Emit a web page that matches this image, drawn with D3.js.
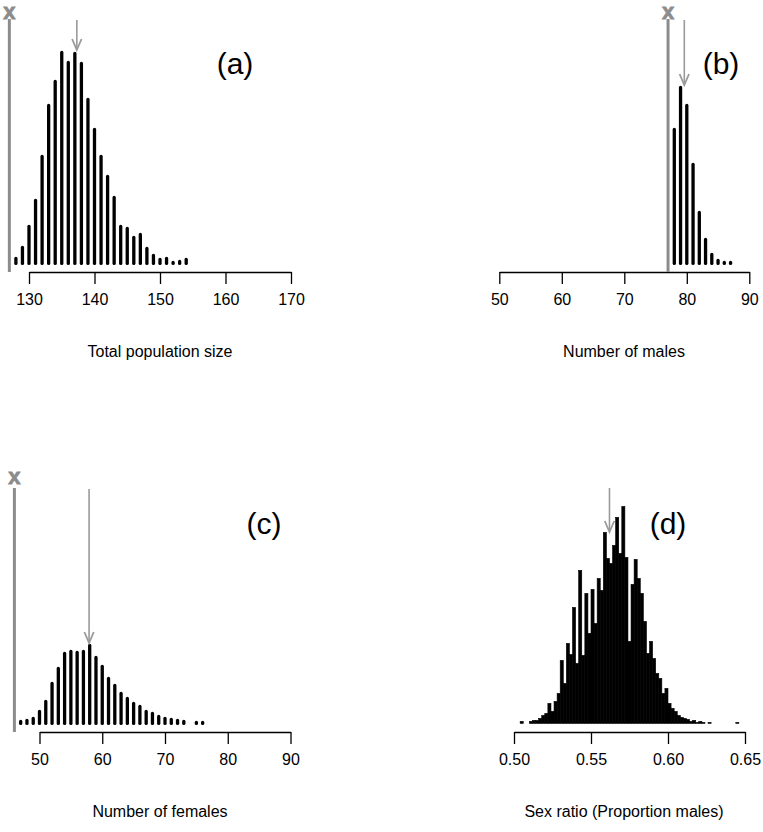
<!DOCTYPE html>
<html><head><meta charset="utf-8">
<script src="https://cdn.jsdelivr.net/npm/d3@7"></script>
<style>
body{margin:0;background:#fff;}
svg{display:block;font-family:"Liberation Sans",Arial,Helvetica,sans-serif;}
</style></head>
<body>
<svg id="chart" width="763" height="832"></svg>
<script>
// ---------- DATA ----------
// (a) total population size
const popValues = [128,129,130,131,132,133,134,135,136,137,138,139,140,141,142,143,144,145,146,147,148,149,150,151,152,153,154];
const popCounts = [5,16,37,63,107,158,182,211,201,210,200,164,134,107,87,66,37,35,26,29,15,8,4,5,1,2,4];
const popTicks = [130,140,150,160,170];
// (b) number of males
const maleValues = [78,79,80,81,82,83,84,85,86,87];
const maleCounts = [134,176,158,99,51,24,9,3,1,1];
const maleTicks = [50,60,70,80,90];
// (c) number of females
const femValues = [47,48,49,50,51,52,53,54,55,56,57,58,59,60,61,62,63,64,65,66,67,68,69,70,71,72,73,75,76];
const femCounts = [2,3,5,12,22,40,55,70,72,71,72,78,66,57,45,38,30,25,20,17,12,10,7,5,4,3,2,1,1];
const femTicks = [50,60,70,80,90];
// (d) sex ratio (proportion males), bin starts, width 0.002
const ratioBins = [0.504,0.506,0.508,0.510,0.512,0.514,0.516,0.518,0.520,0.522,0.524,0.526,0.528,0.530,0.532,0.534,0.536,0.538,0.540,0.542,0.544,0.546,0.548,0.550,0.552,0.554,0.556,0.558,0.560,0.562,0.564,0.566,0.568,0.570,0.572,0.574,0.576,0.578,0.580,0.582,0.584,0.586,0.588,0.590,0.592,0.594,0.596,0.598,0.600,0.602,0.604,0.606,0.608,0.610,0.612,0.614,0.616,0.618,0.620,0.622,0.624,0.626,0.628,0.630,0.632,0.634,0.636,0.638,0.640,0.642,0.644];
const ratioCounts = [2,0,0,2,3,3,5,8,10,20,12,22,30,63,40,80,69,116,60,153,68,130,90,134,100,145,133,191,165,160,178,206,170,217,166,82,139,164,145,130,102,70,82,65,50,45,30,35,20,15,12,8,6,5,4,2,3,1,2,1,0,1,0,0,0,0,0,0,0,0,1];
const ratioBinWidth = 0.002;
const ratioTicks = [0.50,0.55,0.60,0.65];
// observed values (grey line + "x") and means (arrows)
const observed = {a:127, b:77, c:46};
const means = {a:137.3, b:79.6, c:57.9, d:0.562};
const labels = {a:"(a)", b:"(b)", c:"(c)", d:"(d)"};
const titles = {a:"Total population size", b:"Number of males", c:"Number of females", d:"Sex ratio (Proportion males)"};

// ---------- LAYOUT ----------
const svg = d3.select("#chart");
const dyBottom = 460;
const grey = "#8c8c8c", arrowGrey = "#9a9a9a";

function makePanel(o){
  const g = svg.append("g").attr("transform", `translate(0,${o.dy})`);
  const x = d3.scaleLinear().domain([o.ticks[0], o.ticks[o.ticks.length-1]]).range(o.xr);
  const y = d3.scaleLinear().domain([0, 235]).range([263.4, 28.4]);
  const ax = g.append("g").attr("transform","translate(0,272)")
    .call(d3.axisBottom(x).tickValues(o.ticks).tickSizeInner(12).tickSizeOuter(0).tickPadding(10).tickFormat(o.fmt || d3.format("d")));
  ax.selectAll("path,line").attr("stroke","#000").attr("stroke-width",1.3);
  ax.selectAll("text").attr("font-size",16).attr("fill","#000").attr("font-family","Liberation Sans, Arial, sans-serif");
  g.append("text").attr("x", o.titleX).attr("y", 357).attr("text-anchor","middle")
    .attr("font-size",16).text(o.title);
  g.append("text").attr("x", o.labX).attr("y", 74).attr("text-anchor","middle")
    .attr("font-size",30).text(o.label);
  return {g,x,y};
}

function drawSpikes(p, vals, counts){
  p.g.append("g").selectAll("line").data(vals).join("line")
    .attr("x1", d=>p.x(d)).attr("x2", d=>p.x(d))
    .attr("y1", p.y(0)).attr("y2", (d,i)=>p.y(counts[i]))
    .attr("stroke","#000").attr("stroke-width",3.3).attr("stroke-linecap","round");
}
function drawObserved(p, v, topCount, markCount){
  p.g.append("line").attr("x1",p.x(v)).attr("x2",p.x(v))
    .attr("y1",272).attr("y2",p.y(topCount))
    .attr("stroke",grey).attr("stroke-width",3);
  p.g.append("text").attr("x",p.x(v)).attr("y",p.y(markCount)+5.5).attr("text-anchor","middle")
    .attr("font-size",22).attr("font-weight","bold").attr("fill",grey)
    .attr("stroke",grey).attr("stroke-width",0.8).text("x");
}
function drawArrow(p, v, fromCount, tipCount){
  const xx = p.x(v), y0 = p.y(fromCount), y1 = p.y(tipCount);
  p.g.append("line").attr("x1",xx).attr("x2",xx).attr("y1",y0).attr("y2",y1-1)
    .attr("stroke",arrowGrey).attr("stroke-width",1.6);
  p.g.append("path").attr("d",`M${xx-4.7},${y1-11}L${xx},${y1}L${xx+4.7},${y1-11}`)
    .attr("fill","none").attr("stroke",arrowGrey).attr("stroke-width",1.8);
}

// (a)
const pa = makePanel({dy:0, ticks:popTicks, xr:[29,291], title:titles.a, titleX:160, label:labels.a, labX:235});
drawObserved(pa, observed.a, 244.4, 250);
drawSpikes(pa, popValues, popCounts);
drawArrow(pa, means.a, 243.4, 213.4);

// (b)
const pb = makePanel({dy:0, ticks:maleTicks, xr:[499.3,749.3], title:titles.b, titleX:624, label:labels.b, labX:721});
drawObserved(pb, observed.b, 244.4, 250);
drawSpikes(pb, maleValues, maleCounts);
drawArrow(pb, means.b, 243.4, 178.4);

// (c)
const pc = makePanel({dy:dyBottom, ticks:femTicks, xr:[39.5,290.5], title:titles.c, titleX:160, label:labels.c, labX:264});
drawObserved(pc, observed.c, 235.4, 245);
drawSpikes(pc, femValues, femCounts);
drawArrow(pc, means.c, 234.4, 80.4);

// (d)
const pd = makePanel({dy:dyBottom, ticks:ratioTicks, xr:[514,745], title:titles.d, titleX:624, label:labels.d, labX:668, fmt:d3.format(".2f")});
pd.g.append("g").selectAll("rect").data(ratioBins).join("rect")
  .attr("x", d=>pd.x(d)).attr("width", d=>pd.x(d+ratioBinWidth)-pd.x(d))
  .attr("y", (d,i)=>pd.y(ratioCounts[i])).attr("height",(d,i)=>pd.y(0)-pd.y(ratioCounts[i]))
  .attr("fill","#000").attr("stroke","#000").attr("stroke-width",0.6);
drawArrow(pd, means.d, 235.4, 191.4);
</script>
</body></html>
